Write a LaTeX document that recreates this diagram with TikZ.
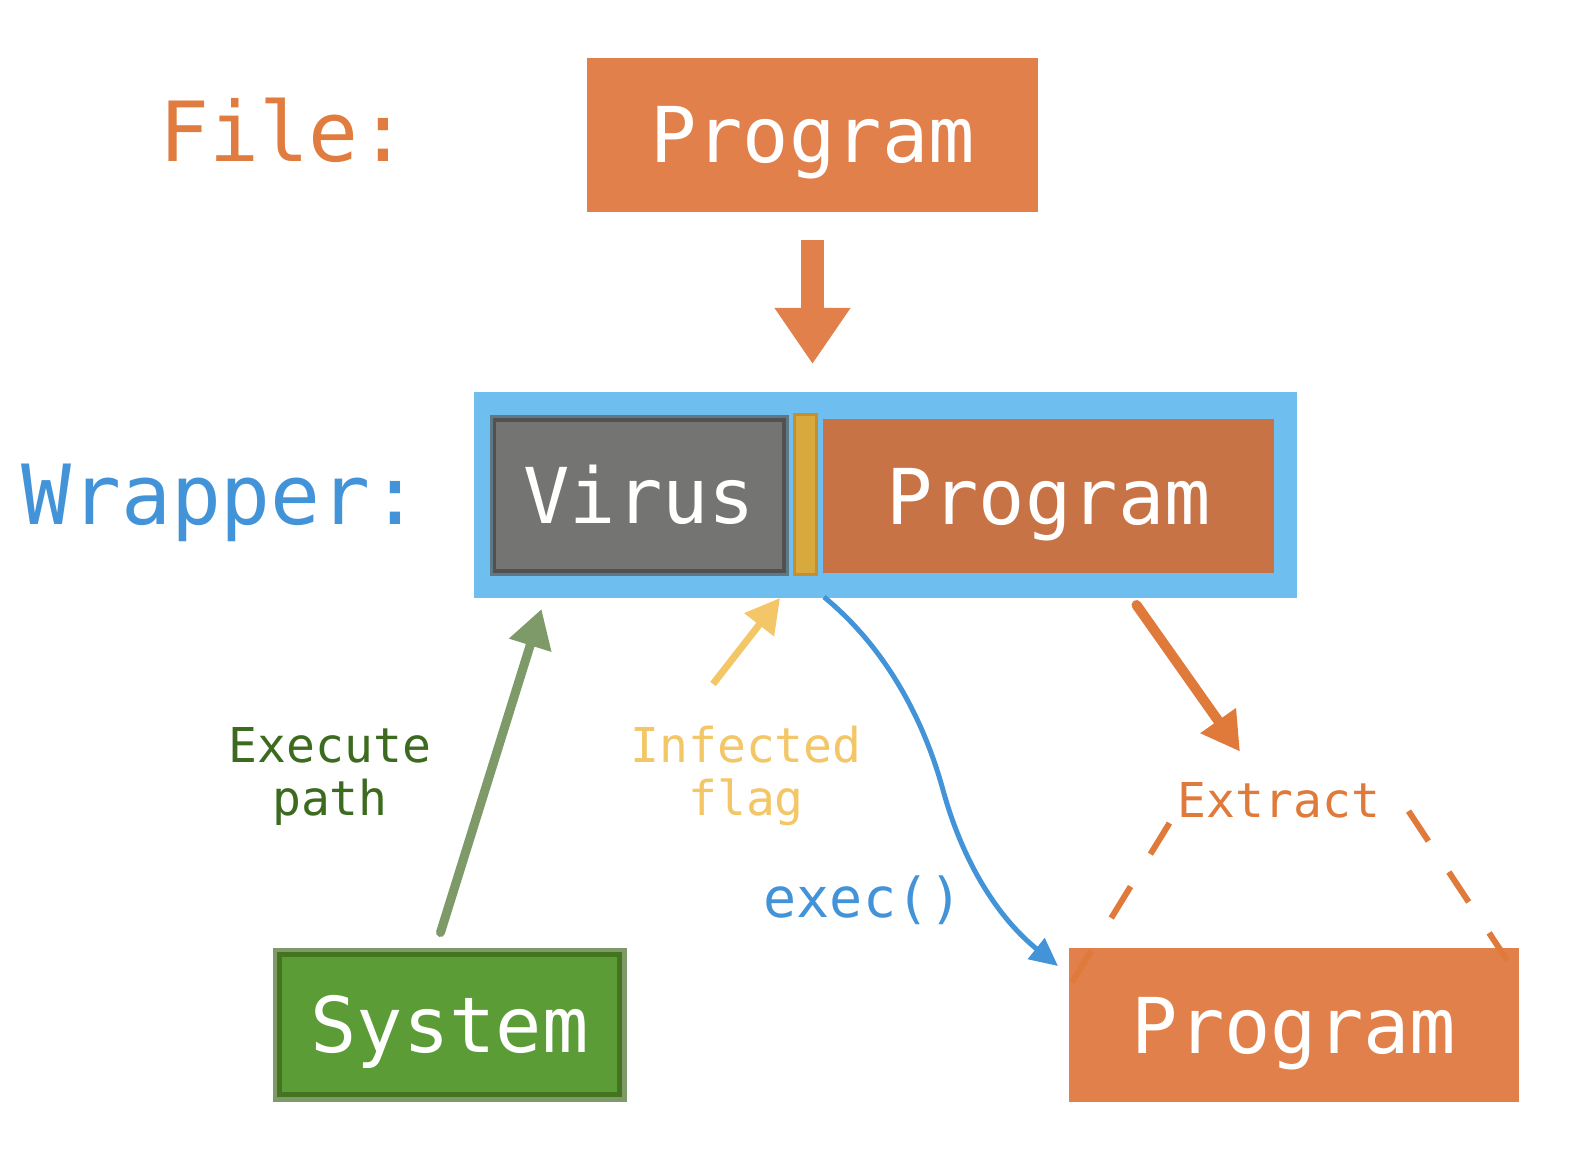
\documentclass[tikz,border=0pt]{standalone}
\usepackage{fontspec}
\setmonofont{DejaVu Sans Mono}
\usetikzlibrary{arrows.meta,calc}

\definecolor{progorange}{HTML}{E2804B}
\definecolor{progdark}{HTML}{C77346}
\definecolor{fileorange}{HTML}{E07C3F}
\definecolor{wrapblue}{HTML}{6EBFF0}
\definecolor{wraptext}{HTML}{4393D8}
\definecolor{virusgray}{HTML}{747472}
\definecolor{virusline}{HTML}{53514F}
\definecolor{virusedge}{HTML}{5E7886}
\definecolor{flagfill}{HTML}{D8AA3E}
\definecolor{flagline}{HTML}{C78F2B}
\definecolor{sysgreen}{HTML}{5B9C36}
\definecolor{sysline}{HTML}{44741F}
\definecolor{sysedge}{HTML}{7E9A69}
\definecolor{exetext}{HTML}{3C6B1F}
\definecolor{flagtext}{HTML}{F3C767}
\definecolor{extorange}{HTML}{DF7A3A}

\begin{document}
\begin{tikzpicture}[x=0.5pt,y=-0.5pt,
        box/.style={rectangle,inner sep=0pt,outer sep=0pt,text=white,
            font=\ttfamily\fontsize{38.5}{40}\selectfont,text height=28pt,text depth=0pt},
        title/.style={inner sep=0pt,anchor=base,font=\ttfamily\fontsize{41.5}{44}\selectfont},
        note/.style={inner sep=0pt,align=center,font=\ttfamily\fontsize{24}{26.5}\selectfont},
        bigdown/.style={draw=progorange,line width=11.5pt,-{Triangle[width=36pt,length=28pt]}},
        sketch/.style={line width=#1,line cap=round,-{Triangle[width=20pt,length=19pt]}}]

    \useasboundingbox (0,0) rectangle (1594,1160);

    % File
    \node[title,text=fileorange] (filelbl) at (284,162) {File:};
    \node[box,fill=progorange,minimum width=225.5pt,minimum height=77pt] (prog) at (812.5,135) {Program};

    % Wrapper
    \node[title,text=wraptext] (wraplbl) at (221,524) {Wrapper:};
    \node[box,fill=wrapblue,minimum width=411.5pt,minimum height=103pt] (wrap) at (885.5,495) {};
    \node[box,fill=virusgray,draw=virusline,line width=1.75pt,
        preaction={draw=virusedge,line width=5pt},
        minimum width=144.75pt,minimum height=75.5pt] (virus) at (639.25,495.5) {Virus};
    \node[box,fill=flagfill,draw=flagline,line width=1.5pt,
        minimum width=11pt,minimum height=80pt] (flag) at (805,494) {};
    \node[box,fill=progdark,minimum width=225.5pt,minimum height=77pt] (prog2) at (1048.5,496) {Program};

    % System and extracted program
    \node[box,fill=sysgreen,draw=sysline,line width=2.5pt,
        preaction={draw=sysedge,line width=7pt},
        minimum width=170pt,minimum height=70pt] (sys) at (449.5,1024.5) {System};
    \node[box,fill=progorange,minimum width=225pt,minimum height=77pt] (prog3) at (1294,1025) {Program};

    % Labels
    \node[note,text=exetext] (exelbl) at (330,776) {Execute\\path};
    \node[note,text=flagtext] (flaglbl) at (746,776) {Infected\\flag};
    \node[note,anchor=base,text=wraptext,font=\ttfamily\fontsize{27.5}{30}\selectfont] (execlbl) at (863,917) {exec()};
    \node[note,anchor=base,text=extorange] (xlbl) at (1279,817) {Extract};

    % Arrows
    \draw[bigdown,shorten <=14pt,shorten >=14pt] (prog.south) -- (prog.south |- wrap.north);
    \draw[sketch=4.5pt,draw=sysedge,fill=sysedge,-{Triangle[width=21pt,length=19pt]}]
        ($(sys.north)+(-9,-22)$) -- ($(virus.south west)+(47,38)$);
    \draw[sketch=3.5pt,draw=flagtext,fill=flagtext,line cap=butt,-{Triangle[width=18pt,length=17pt]}]
        ($(flag.south)+(-92,110)$) -- ($(flag.south)+(-25,24)$);
    \draw[draw=wraptext,fill=none,line width=2.5pt,-{Triangle[width=13pt,length=14pt,fill=wraptext]}]
        ($(prog2.south west)+(1,24)$) .. controls +(56,46) and +(-22,-80) .. (943,790)
        .. controls +(22,80) and +(-55,-44) .. ($(prog3.north west)+(-11,18)$);
    \draw[sketch=5pt,draw=extorange,fill=extorange,-{Triangle[width=20.5pt,length=19pt]}]
        ($(prog2.south)+(88,32)$) -- ($(xlbl.north)+(-39,-30)$);

    % Extract dashes
    \draw[extorange,line width=3pt,dash pattern=on 18.5pt off 19pt]
        ($(prog3.north west)+(3,34)$) -- ($(xlbl.south west)+(-8,5)$);
    \draw[extorange,line width=3pt,dash pattern=on 18pt off 18.5pt]
        ($(xlbl.south east)+(28,-7)$) -- ($(prog3.north east)+(-12,12)$);
\end{tikzpicture}
\end{document}
